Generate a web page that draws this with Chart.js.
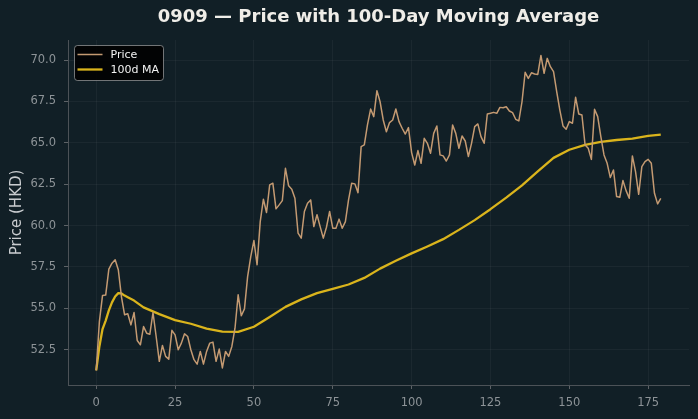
<!DOCTYPE html>
<html><head><meta charset="utf-8">
<script src="https://cdn.jsdelivr.net/npm/chart.js@4.4.1/dist/chart.umd.min.js"></script>
<style>html,body{margin:0;padding:0;background:#111f26;}canvas{display:block;}</style>
</head><body>
<canvas id="c" width="698" height="419"></canvas>
<script>
// ---- data ----
const chartTitle = '0909 — Price with 100-Day Moving Average';
const yAxisTitle = 'Price (HKD)';
const seriesNames = ['Price', '100d MA'];
const xTicks = [0, 25, 50, 75, 100, 125, 150, 175];
const yTicks = [52.5, 55.0, 57.5, 60.0, 62.5, 65.0, 67.5, 70.0];

const price = [51.25,54.2,55.78,55.8,57.37,57.73,57.93,57.33,55.7,54.61,
54.67,54.0,54.75,53.06,52.8,53.9,53.5,53.44,54.75,53.3,
51.8,52.76,52.1,51.93,53.67,53.4,52.5,52.9,53.46,53.3,
52.5,51.9,51.63,52.4,51.63,52.4,52.9,52.96,51.8,52.54,
51.4,52.4,52.1,52.7,53.8,55.82,54.55,54.97,56.92,58.13,
59.1,57.63,60.24,61.59,60.79,62.46,62.56,61.01,61.25,61.51,
63.46,62.4,62.2,61.65,59.54,59.24,60.85,61.35,61.55,59.94,
60.65,59.94,59.24,59.9,60.85,59.84,59.84,60.39,59.84,60.24,
61.55,62.56,62.52,61.99,64.77,64.87,66.08,67.04,66.58,68.15,
67.48,66.38,65.67,66.22,66.38,67.04,66.28,65.88,65.53,65.92,
64.41,63.66,64.53,63.76,65.27,64.97,64.37,65.57,66.02,64.27,
64.21,63.9,64.27,66.08,65.57,64.67,65.41,65.11,64.17,64.97,
65.98,66.14,65.37,64.97,66.74,66.78,66.84,66.78,67.14,67.12,
67.18,66.92,66.82,66.42,66.32,67.48,69.26,68.89,69.23,69.16,
69.13,70.28,69.2,70.1,69.6,69.3,68.09,66.98,66.02,65.82,
66.28,66.18,67.75,66.74,66.68,64.87,64.67,64.0,67.02,66.58,
65.37,64.27,63.76,62.9,63.36,61.75,61.71,62.72,62.11,61.65,
64.21,63.26,61.89,63.56,63.86,64.0,63.76,61.95,61.31,61.65];
const days = price.map((_, i) => i);

const maDays = [0,1,2,3,4,5,6,7,8,9,10,12,15,20,25,30,35,40,45,50,55,60,65,70,75,80,85,90,95,100,105,110,115,120,125,130,135,140,145,150,155,160,165,170,175,179];
const maValues = [51.25,52.7,53.75,54.26,54.88,55.36,55.72,55.92,55.9,55.77,55.67,55.47,55.06,54.65,54.29,54.07,53.78,53.6,53.58,53.89,54.48,55.09,55.54,55.92,56.18,56.44,56.84,57.4,57.87,58.32,58.74,59.18,59.74,60.33,60.99,61.69,62.43,63.27,64.09,64.58,64.88,65.06,65.17,65.25,65.42,65.5];

// ---- styling ----
const PRICE_COLOR = '#c49a72';
const MA_COLOR = '#dab41c';
const TICK_COLOR = '#8d9397';
const FONT = 'DejaVu Sans';

const legendBox = {
  id: 'legendBox',
  afterDraw(chart) {
    const ctx = chart.ctx, a = chart.chartArea;
    const x = a.left + 6.5, y = a.top + 5.5, w = 89, h = 35, r = 3;
    ctx.save();
    ctx.beginPath();
    ctx.moveTo(x + r, y); ctx.lineTo(x + w - r, y); ctx.quadraticCurveTo(x + w, y, x + w, y + r);
    ctx.lineTo(x + w, y + h - r); ctx.quadraticCurveTo(x + w, y + h, x + w - r, y + h);
    ctx.lineTo(x + r, y + h); ctx.quadraticCurveTo(x, y + h, x, y + h - r);
    ctx.lineTo(x, y + r); ctx.quadraticCurveTo(x, y, x + r, y);
    ctx.closePath();
    ctx.fillStyle = 'rgba(0,0,0,0.88)';
    ctx.fill();
    ctx.strokeStyle = 'rgba(200,200,200,0.55)';
    ctx.lineWidth = 1;
    ctx.stroke();
    chart.data.datasets.forEach((ds, i) => {
      const ly = y + 9 + i * 15;
      ctx.beginPath();
      ctx.moveTo(x + 3, ly); ctx.lineTo(x + 28, ly);
      ctx.strokeStyle = ds.borderColor; ctx.lineWidth = ds.borderWidth;
      ctx.stroke();
      ctx.fillStyle = '#f2f2f2';
      ctx.font = '11px "' + FONT + '"';
      ctx.textBaseline = 'middle';
      ctx.fillText(ds.label, x + 36, ly + 0.5);
    });
    ctx.restore();
  }
};

new Chart(document.getElementById('c'), {
  type: 'line',
  data: {
    datasets: [
      { label: seriesNames[0], data: days.map((d, i) => ({ x: d, y: price[i] })),
        borderColor: PRICE_COLOR, borderWidth: 1.5, pointRadius: 0, tension: 0, borderJoinStyle: 'round' },
      { label: seriesNames[1], data: maDays.map((d, i) => ({ x: d, y: maValues[i] })),
        borderColor: MA_COLOR, borderWidth: 2.3, pointRadius: 0, tension: 0, borderJoinStyle: 'round' }
    ]
  },
  options: {
    responsive: false,
    devicePixelRatio: 1,
    animation: false,
    layout: { padding: { left: 0, right: 9, top: 0, bottom: 0 } },
    plugins: {
      legend: { display: false },
      tooltip: { enabled: false },
      title: {
        display: true, text: chartTitle, fullSize: false,
        color: '#efede8', font: { family: FONT, size: 18, weight: 'bold', lineHeight: 1.2 },
        padding: { top: 7, bottom: 11.4 }
      }
    },
    scales: {
      x: {
        type: 'linear', min: -8.95, max: 187.95,
        afterBuildTicks: s => { s.ticks = xTicks.map(v => ({ value: v })); },
        afterFit: s => { s.height = 34; },
        grid: { color: 'rgba(255,255,255,0.045)', drawTicks: true, tickLength: 4, tickColor: '#5d6266', tickWidth: 1 },
        border: { display: true, color: '#4c5257', width: 1 },
        ticks: { color: TICK_COLOR, font: { family: FONT, size: 11.5 }, padding: 7, maxRotation: 0,
                 callback: v => String(v) }
      },
      y: {
        min: 50.37, max: 71.21,
        afterBuildTicks: s => { s.ticks = yTicks.map(v => ({ value: v })); },
        afterFit: s => { s.width = 68; },
        grid: { color: 'rgba(255,255,255,0.045)', drawTicks: true, tickLength: 4, tickColor: '#5d6266', tickWidth: 1 },
        border: { display: true, color: '#4c5257', width: 1 },
        ticks: { color: TICK_COLOR, font: { family: FONT, size: 11.5 }, padding: 8,
                 callback: v => Number(v).toFixed(1) },
        title: { display: true, text: yAxisTitle, color: '#c9cccf',
                 font: { family: FONT, size: 15, lineHeight: 1.2 }, padding: { top: 8, bottom: 0 } }
      }
    }
  },
  plugins: [legendBox]
});
</script>
</body></html>
